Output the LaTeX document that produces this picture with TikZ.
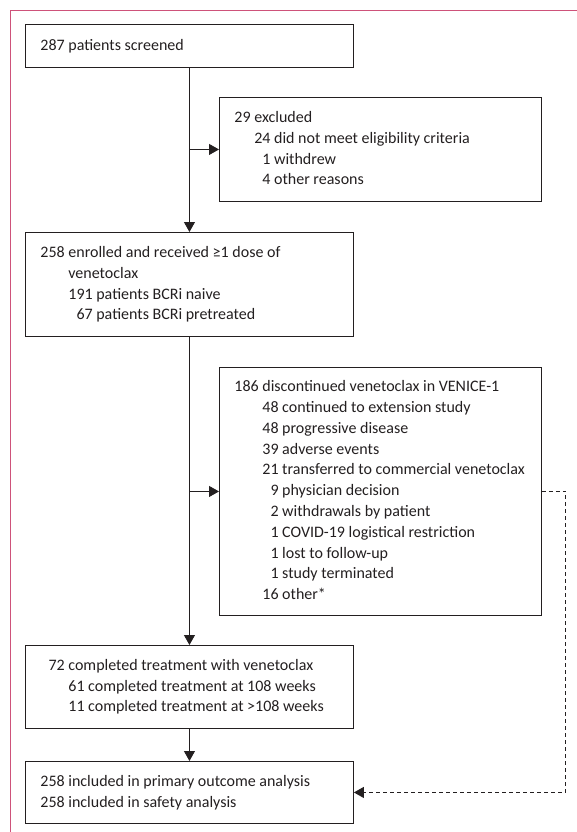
\documentclass[tikz,border=0pt]{standalone}
\usepackage{fontspec}
\setmainfont{Carlito}
\usetikzlibrary{arrows.meta}
\definecolor{framepink}{RGB}{206,82,122}
\definecolor{boxline}{RGB}{35,31,32}
\newcommand\ind[1]{\hphantom{#1}}
\newcommand\tb[2]{\makebox[#1][l]{\begin{tabular}{@{}l@{}}#2\end{tabular}}}
\begin{document}
\begin{tikzpicture}[x=1pt,y=-1pt,
  box/.style={draw=boxline, line width=0.9pt, rectangle, anchor=north west,
    inner xsep=15pt, inner ysep=0pt, text=boxline,
    font=\fontsize{16}{20.8}\selectfont},
  leftbox/.style={box, minimum width=328pt},
  rightbox/.style={box, minimum width=322pt},
  conn/.style={draw=boxline, line width=0.9pt, -{Triangle[length=10pt,width=11pt]}},
  dconn/.style={conn, dash pattern=on 4pt off 3pt},
]
\useasboundingbox (0,0) rectangle (577,832);
\draw[framepink, line width=1pt] (577,11) -- (10,11) -- (10,832);

\node[leftbox, minimum height=43pt] (b1) at (25,24) {\tb{298pt}{287 patients screened}};

\node[rightbox, minimum height=104pt] (ex) at (219,97) {\tb{292pt}{29 excluded\\
\ind{29 }24 did not meet eligibility criteria\\
\ind{29 0}1 withdrew\\
\ind{29 0}4 other reasons}};

\node[leftbox, minimum height=104pt] (b2) at (25,232) {\tb{298pt}{258 enrolled and received ≥1 dose of\\
\ind{258 }venetoclax\\
\ind{258 }191 patients BCRi naive\\
\ind{258 0}67 patients BCRi pretreated}};

\node[rightbox, minimum height=248pt] (b3) at (219,367) {\tb{292pt}{186 discontinued venetoclax in VENICE-1\\
\ind{186 }48 continued to extension study\\
\ind{186 }48 progressive disease\\
\ind{186 }39 adverse events\\
\ind{186 }21 transferred to commercial venetoclax\\
\ind{186 0}9 physician decision\\
\ind{186 0}2 withdrawals by patient\\
\ind{186 0}1 COVID-19 logistical restriction\\
\ind{186 0}1 lost to follow-up\\
\ind{186 0}1 study terminated\\
\ind{186 }16 other*}};

\node[leftbox, minimum height=83pt] (b4) at (25,645) {\tb{298pt}{\ind{0}72 completed treatment with venetoclax\\
\ind{072 }61 completed treatment at 108 weeks\\
\ind{072 }11 completed treatment at >108 weeks}};

\node[leftbox, minimum height=62pt] (b5) at (25,761) {\tb{298pt}{258 included in primary outcome analysis\\
258 included in safety analysis}};

\coordinate (j1) at (b1.south |- ex.west);
\coordinate (j2) at (b2.south |- b3.west);
\draw[conn] (b1.south) -- (b2.north);
\draw[conn] (j1) -- (ex.west);
\draw[conn] (b2.south) -- (b4.north);
\draw[conn] (j2) -- (b3.west);
\draw[conn] (b4.south) -- (b5.north);
\draw[dconn] (b3.east) -- ++(24,0) |- (b5.east);
\end{tikzpicture}
\end{document}
